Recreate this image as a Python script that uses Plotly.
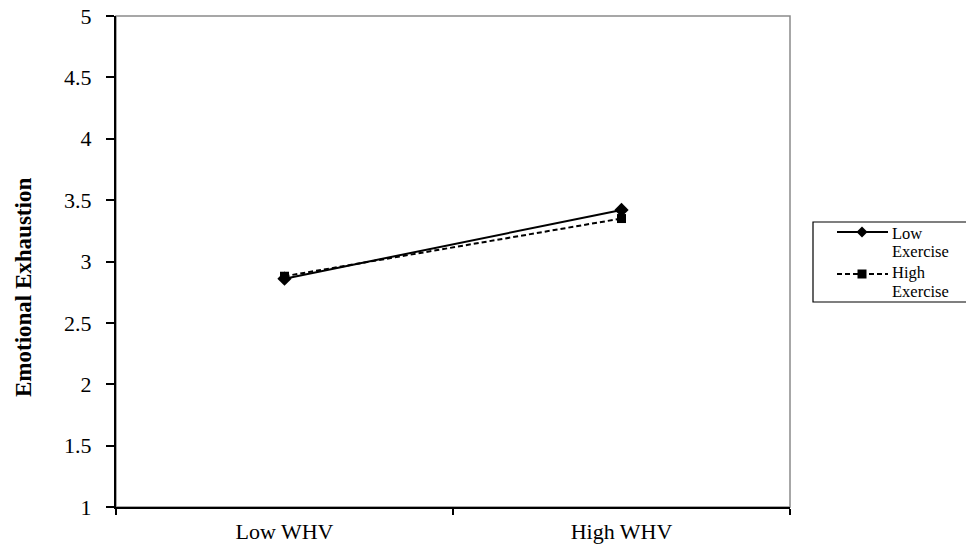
import plotly.graph_objects as go

categories = ["Low WHV", "High WHV"]
low_exercise = [2.86, 3.42]
high_exercise = [2.88, 3.35]
series_names = ["Low Exercise", "High Exercise"]
y_ticks = [1, 1.5, 2, 2.5, 3, 3.5, 4, 4.5, 5]
y_title = "Emotional Exhaustion"

FONT = "Liberation Serif, Times New Roman, serif"

# plot area in screen px
PL, PR, PT, PB = 116, 790, 16, 507
W, H = 966, 553
def px(sx):
    return (sx - PL) / (PR - PL)
def py(sy):
    return (PB - sy) / (PB - PT)

fig = go.Figure()
fig.add_trace(go.Scatter(
    x=categories, y=low_exercise, name=series_names[0], mode="lines+markers",
    line=dict(color="black", width=2, dash="solid"),
    marker=dict(symbol="diamond", size=11, color="black"),
))
fig.add_trace(go.Scatter(
    x=categories, y=high_exercise, name=series_names[1], mode="lines+markers",
    line=dict(color="black", width=2, dash="5px,3px"),
    marker=dict(symbol="square", size=9, color="black"),
))

# plot frame (grey top/right)
fig.add_shape(type="rect", xref="paper", yref="paper", x0=0, x1=1, y0=0, y1=1,
              line=dict(color="#8a8a8a", width=1.5), layer="below")

# manual legend
fig.add_shape(type="rect", xref="paper", yref="paper",
              x0=px(813), x1=px(975), y0=py(302), y1=py(222),
              line=dict(color="black", width=1.2), fillcolor="white")
legend_rows = [
    dict(y=232, text_y=233, dash="solid", marker="diamond", lines=series_names[0].split(" ")),
    dict(y=274, text_y=272, dash="5px,3px", marker="square", lines=series_names[1].split(" ")),
]
for row in legend_rows:
    fig.add_shape(type="line", xref="paper", yref="paper",
                  x0=px(837), x1=px(888), y0=py(row["y"]), y1=py(row["y"]),
                  line=dict(color="black", width=2, dash=row["dash"]))
    if row["marker"] == "diamond":
        fig.add_shape(type="path", xref="paper", yref="paper",
                      xsizemode="pixel", ysizemode="pixel",
                      xanchor=px(862), yanchor=py(row["y"]),
                      path="M -5.5 0 L 0 5.5 L 5.5 0 L 0 -5.5 Z",
                      fillcolor="black", line=dict(color="black", width=0))
    else:
        fig.add_shape(type="rect", xref="paper", yref="paper",
                      xsizemode="pixel", ysizemode="pixel",
                      xanchor=px(862), yanchor=py(row["y"]),
                      x0=-4.5, x1=4.5, y0=-4.5, y1=4.5,
                      fillcolor="black", line=dict(color="black", width=0))
    for i, txt in enumerate(row["lines"]):
        fig.add_annotation(xref="paper", yref="paper", x=px(890), y=py(row["text_y"] + i * 19),
                           xanchor="left", yanchor="middle", showarrow=False, text=txt,
                           font=dict(family=FONT, size=16.5, color="black"))

# y-axis title (placed like the original, below centre)
fig.add_annotation(xref="paper", yref="paper", x=px(23), y=py(288),
                   xanchor="center", yanchor="middle", showarrow=False,
                   textangle=-90, text="<b>" + y_title + "</b>",
                   font=dict(family=FONT, size=23, color="black"))

fig.update_layout(
    width=W, height=H,
    margin=dict(l=PL, r=W - PR, t=PT, b=H - PB, autoexpand=False),
    paper_bgcolor="white", plot_bgcolor="white",
    font=dict(family=FONT, color="black", size=22),
    showlegend=False,
    hovermode=False,
    xaxis=dict(
        type="category", range=[-0.5, 1.5], tickson="boundaries",
        ticks="outside", ticklen=6, tickcolor="black", tickwidth=1.5,
        showline=True, linecolor="black", linewidth=2,
        showgrid=False, zeroline=False, automargin=False,
        tickfont=dict(family=FONT, size=22, color="black"),
        ticklabelstandoff=4,
    ),
    yaxis=dict(
        range=[1, 5], tickvals=y_ticks,
        ticks="outside", ticklen=8, tickcolor="black", tickwidth=1.5,
        showline=True, linecolor="black", linewidth=2,
        showgrid=False, zeroline=False, automargin=False,
        tickfont=dict(family=FONT, size=22, color="black"),
        ticklabelstandoff=10, ticklabeloverflow="allow",
    ),
)

fig.write_html("out.html",
               config={"displayModeBar": False},
               post_script="document.body.style.margin='0';document.body.style.overflow='hidden';")
